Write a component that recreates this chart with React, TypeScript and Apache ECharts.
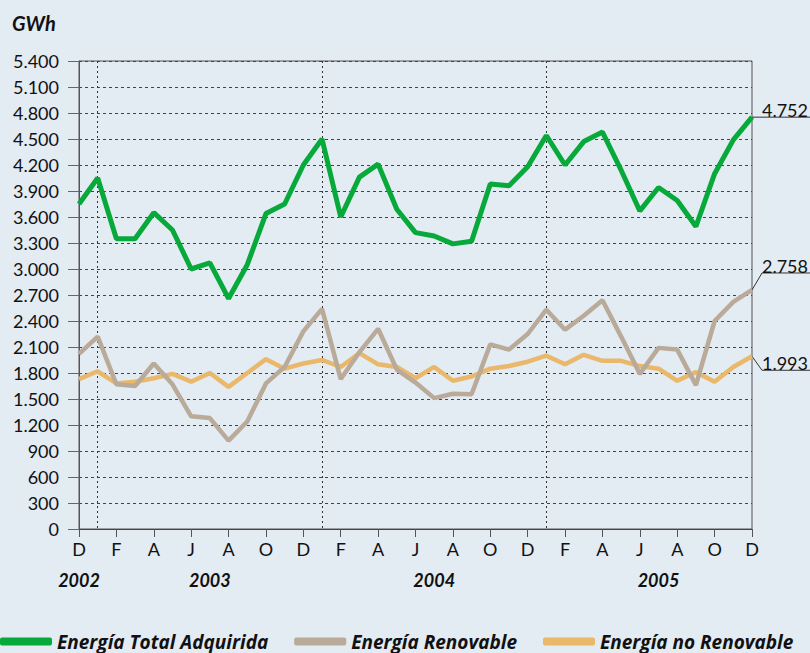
import React, { useEffect, useRef } from 'react';
import * as echarts from 'echarts';

// Dec 2002 .. Dec 2005 (Spanish month initials)
const monthLabels = [
  'D',
  'E', 'F', 'M', 'A', 'M', 'J', 'J', 'A', 'S', 'O', 'N', 'D',
  'E', 'F', 'M', 'A', 'M', 'J', 'J', 'A', 'S', 'O', 'N', 'D',
  'E', 'F', 'M', 'A', 'M', 'J', 'J', 'A', 'S', 'O', 'N', 'D',
];
const yearLabels = [
  '2002',
  '', '', '', '', '', '', '2003', '', '', '', '', '',
  '', '', '', '', '', '', '2004', '', '', '', '', '',
  '', '', '', '', '', '', '2005', '', '', '', '', '',
];
const januaryIdx = [1, 13, 25];

const totalAdquirida = [
  3750, 4050, 3350, 3350, 3650, 3450, 3000, 3070, 2660, 3050, 3640, 3750, 4200,
  4500, 3600, 4060, 4210, 3690, 3420, 3380, 3290, 3320, 3980, 3960, 4180,
  4540, 4200, 4470, 4580, 4140, 3670, 3940, 3790, 3490, 4100, 4490, 4752,
];
const renovable = [
  2020, 2220, 1670, 1650, 1910, 1670, 1300, 1280, 1020, 1240, 1680, 1870, 2280,
  2540, 1730, 2040, 2310, 1840, 1690, 1510, 1560, 1555, 2130, 2070, 2250,
  2530, 2300, 2460, 2640, 2220, 1790, 2090, 2070, 1660, 2400, 2620, 2758,
];
const noRenovable = [
  1730, 1820, 1680, 1700, 1740, 1790, 1700, 1800, 1640, 1800, 1960, 1850, 1910,
  1950, 1870, 2030, 1900, 1870, 1740, 1870, 1710, 1760, 1850, 1880, 1930,
  2000, 1900, 2010, 1940, 1940, 1880, 1850, 1710, 1810, 1700, 1870, 1993,
];

const seriesNames = ['Energía Total Adquirida', 'Energía Renovable', 'Energía no Renovable'];
const colors = ['#07a93b', '#b9aa9a', '#e9b86a'];

const FONT = 'Lato, "Open Sans", sans-serif';
const LEGEND_FONT = '"Open Sans", Lato, sans-serif';
const fmt = (v: number) =>
  v >= 1000 ? Math.floor(v / 1000) + '.' + String(v % 1000).padStart(3, '0') : String(v);

export default function App() {
  const ref = useRef<HTMLDivElement>(null);
  useEffect(() => {
    document.body.style.margin = '0';
    document.body.style.background = '#e3ebf3';
    const chart = echarts.init(ref.current!, null, { renderer: 'svg' });
    const option: any = {
      animation: false,
      backgroundColor: '#e3ebf3',
      title: {
        text: 'GWh',
        left: 12,
        top: 13,
        padding: 0,
        textStyle: { fontSize: 20, fontWeight: 'bold', fontStyle: 'italic', fontFamily: FONT, color: '#111' },
      },
      legend: {
        left: 0,
        top: 632,
        padding: 0,
        itemWidth: 52,
        itemHeight: 8,
        itemGap: 26,
        icon: 'roundRect',
        data: seriesNames,
        textStyle: { fontSize: 19, fontWeight: 'bold', fontStyle: 'italic', fontFamily: LEGEND_FONT, color: '#111' },
      },
      grid: {
        left: 79,
        right: 58,
        top: 61,
        bottom: 124,
        show: true,
        borderColor: '#555',
        borderWidth: 1,
        backgroundColor: 'transparent',
      },
      xAxis: [
        {
          type: 'category',
          data: monthLabels,
          boundaryGap: false,
          axisLine: { lineStyle: { color: '#444', width: 1 } },
          axisTick: { interval: (i: number) => i % 2 === 0, length: 8, lineStyle: { color: '#555' } },
          axisLabel: {
            interval: (i: number) => i % 2 === 0,
            margin: 11,
            fontSize: 18,
            fontFamily: FONT,
            color: '#111',
          },
          splitLine: {
            show: true,
            interval: (i: number) => januaryIdx.includes(i),
            lineStyle: { type: [2, 3], color: '#333', width: 1 },
          },
        },
        {
          type: 'category',
          data: yearLabels,
          position: 'bottom',
          offset: 34,
          boundaryGap: false,
          axisLine: { show: false },
          axisTick: { show: false },
          splitLine: { show: false },
          axisLabel: {
            interval: 0,
            margin: 8,
            fontSize: 18,
            fontWeight: 'bold',
            fontStyle: 'italic',
            fontFamily: FONT,
            color: '#111',
          },
        },
      ],
      yAxis: {
        type: 'value',
        min: 0,
        max: 5400,
        interval: 300,
        axisLine: { show: true, lineStyle: { color: '#555', width: 1 } },
        axisTick: { show: true, length: 11, lineStyle: { color: '#666' } },
        axisLabel: { formatter: fmt, margin: 20, fontSize: 18, fontFamily: FONT, color: '#111' },
        splitLine: { show: true, lineStyle: { type: [3, 3], color: '#444', width: 1 } },
      },
      series: [
        {
          name: seriesNames[2],
          type: 'line',
          data: noRenovable,
          symbol: 'none',
          lineStyle: { color: colors[2], width: 4.5 },
          itemStyle: { color: colors[2] },
        },
        {
          name: seriesNames[1],
          type: 'line',
          data: renovable,
          symbol: 'none',
          lineStyle: { color: colors[1], width: 4.5 },
          itemStyle: { color: colors[1] },
        },
        {
          name: seriesNames[0],
          type: 'line',
          data: totalAdquirida,
          symbol: 'none',
          lineStyle: { color: colors[0], width: 5 },
          itemStyle: { color: colors[0] },
        },
      ],
    };
    chart.setOption(option);

    const last = monthLabels.length - 1;
    const ends = [
      { v: totalAdquirida[last], dy: 0 },
      { v: renovable[last], dy: -17 },
      { v: noRenovable[last], dy: 14 },
    ];
    const graphic: any[] = [];
    ends.forEach((e) => {
      const p = chart.convertToPixel({ xAxisIndex: 0, yAxisIndex: 0 }, [last, e.v]) as number[];
      const ly = p[1] + e.dy;
      const kx = e.dy === 0 ? p[0] : p[0] + 10;
      graphic.push({
        type: 'polyline',
        shape: { points: [[p[0], p[1]], [kx, ly], [810, ly]] },
        style: { stroke: '#333', lineWidth: 1, fill: 'none' },
        silent: true,
      });
      graphic.push({
        type: 'text',
        x: 808,
        y: ly + 2,
        style: {
          text: fmt(e.v),
          align: 'right',
          verticalAlign: 'bottom',
          fontSize: 18,
          fontFamily: FONT,
          fill: '#111',
        },
        silent: true,
      });
    });
    chart.setOption({ graphic });

    return () => chart.dispose();
  }, []);
  return (
    <div
      ref={ref}
      style={{ position: 'absolute', left: 0, top: 0, width: 810, height: 653, background: '#e3ebf3' }}
    />
  );
}
